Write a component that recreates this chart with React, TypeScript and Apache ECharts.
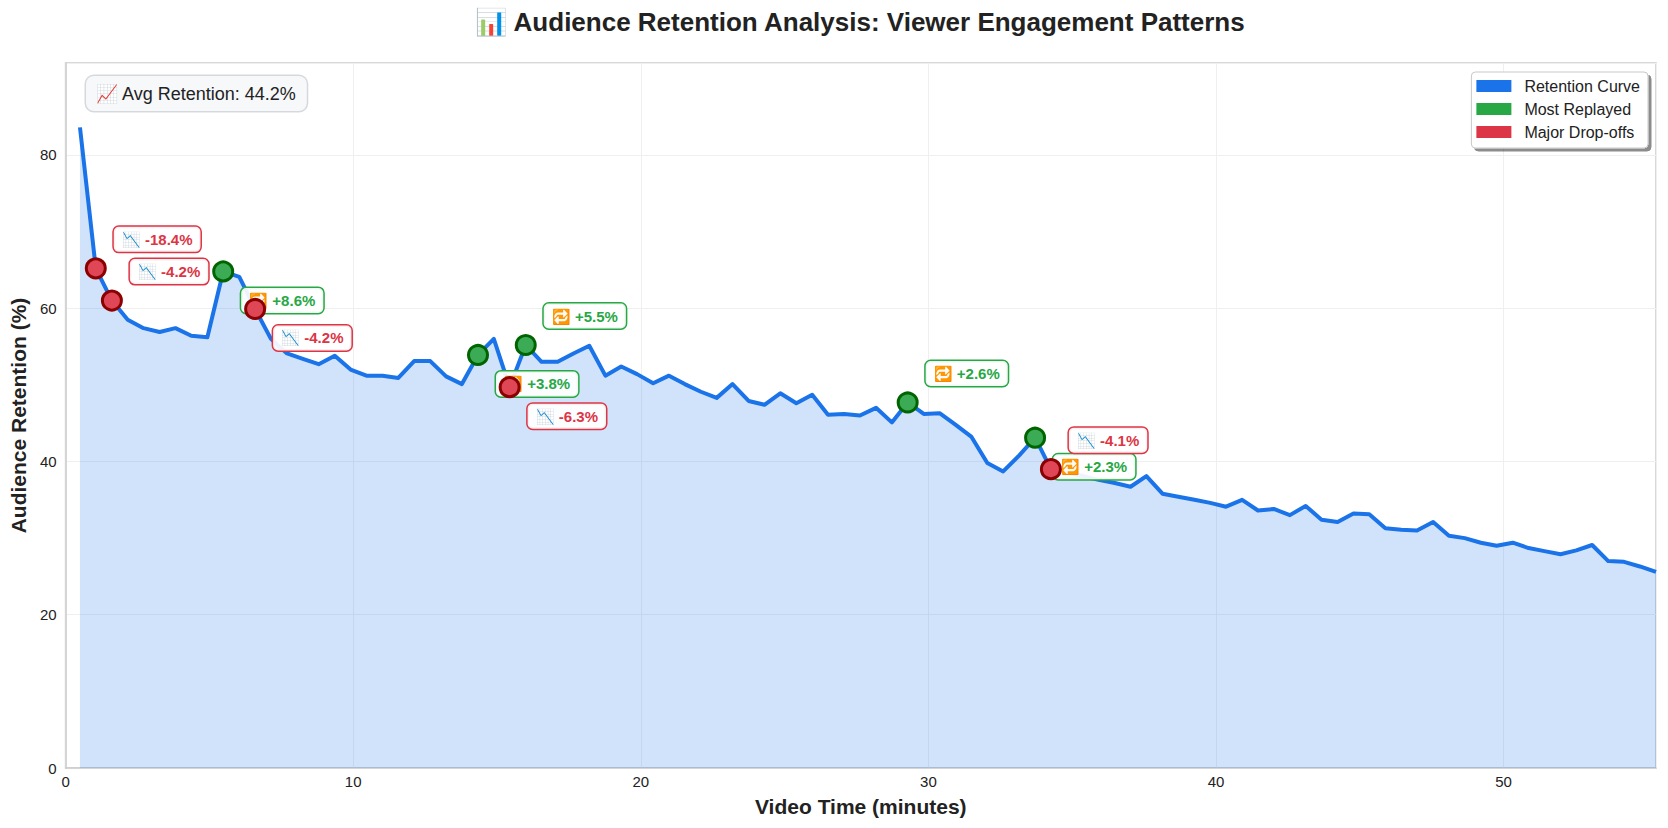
import React, { useEffect, useRef } from "react";
import * as echarts from "echarts";

// ---- data ----
const times = [
  0.5, 1.05, 1.61, 2.16, 2.71, 3.27, 3.82, 4.37, 4.93, 5.48,
  6.04, 6.59, 7.14, 7.7, 8.25, 8.8, 9.36, 9.91, 10.46, 11.02,
  11.57, 12.12, 12.68, 13.23, 13.78, 14.34, 14.89, 15.44, 16.0, 16.55,
  17.11, 17.66, 18.21, 18.77, 19.32, 19.87, 20.43, 20.98, 21.53, 22.09,
  22.64, 23.19, 23.75, 24.3, 24.85, 25.41, 25.96, 26.51, 27.07, 27.62,
  28.18, 28.73, 29.28, 29.84, 30.39, 30.94, 31.5, 32.05, 32.6, 33.16,
  33.71, 34.26, 34.82, 35.37, 35.92, 36.48, 37.03, 37.58, 38.14, 38.69,
  39.25, 39.8, 40.35, 40.91, 41.46, 42.01, 42.57, 43.12, 43.67, 44.23,
  44.78, 45.33, 45.89, 46.44, 46.99, 47.55, 48.1, 48.65, 49.21, 49.76,
  50.32, 50.87, 51.42, 51.98, 52.53, 53.08, 53.64, 54.19, 54.74, 55.3,
];
const retention = [
  83.6, 65.2, 61.0, 58.5, 57.4, 56.9, 57.4, 56.4, 56.2, 64.8,
  64.1, 59.9, 56.0, 54.1, 53.4, 52.7, 53.8, 52.0, 51.2, 51.2,
  50.9, 53.1, 53.1, 51.1, 50.1, 53.9, 56.0, 49.7, 55.2, 53.0,
  53.0, 54.1, 55.1, 51.2, 52.4, 51.4, 50.2, 51.2, 50.1, 49.1,
  48.3, 50.1, 47.9, 47.4, 48.9, 47.6, 48.7, 46.1, 46.2, 46.0,
  47.0, 45.1, 47.7, 46.2, 46.3, 44.8, 43.2, 39.8, 38.7, 40.8,
  43.1, 39.0, 38.6, 38.1, 37.6, 37.2, 36.7, 38.1, 35.8, 35.4,
  35.0, 34.6, 34.1, 35.0, 33.6, 33.8, 33.0, 34.2, 32.4, 32.1,
  33.2, 33.1, 31.3, 31.1, 31.0, 32.1, 30.3, 30.0, 29.4, 29.0,
  29.4, 28.7, 28.3, 27.9, 28.4, 29.1, 27.0, 26.9, 26.3, 25.6,
];
const replayIdx = [9, 25, 28, 52, 60];
const replayGain = [8.6, 3.8, 5.5, 2.6, 2.3];
const dropIdx = [1, 2, 11, 27, 61];
const dropLoss = [-18.4, -4.2, -4.2, -6.3, -4.1];
const avgRetention = 44.2;
const seriesNames = ["Retention Curve", "Most Replayed", "Major Drop-offs"];
const titleText = "📊 Audience Retention Analysis: Viewer Engagement Patterns";
const xName = "Video Time (minutes)";
const yName = "Audience Retention (%)";

// ---- style ----
const FONT = '"Liberation Sans", Arial, Helvetica, sans-serif';
const BLUE = "#1a73e8";
const GREEN = "#28a745";
const RED = "#dc3545";
const replayLabelUp = [false, false, true, true, false];
const dropLabelUp = [true, true, false, false, true];

function labelStyle(color: string, up: boolean, text: string) {
  return {
    show: true,
    formatter: text,
    position: "inside",
    align: "left",
    verticalAlign: "middle",
    offset: [18, up ? -29 : 29],
    color,
    opacity: 1,
    textBorderWidth: 0,
    textShadowBlur: 0,
    fontFamily: FONT,
    fontSize: 15,
    fontWeight: "bold",
    backgroundColor: "rgba(255,255,255,0.92)",
    borderColor: color,
    borderWidth: 1.5,
    borderRadius: 5,
    padding: [5, 8],
  };
}

export default function App() {
  const ref = useRef<HTMLDivElement>(null);
  useEffect(() => {
    document.body.style.margin = "0";
    if (!ref.current) return;
    const chart = echarts.init(ref.current, null, { renderer: "svg" });
    const option = {
      animation: false,
      backgroundColor: "#ffffff",
      grid: {
        left: 64,
        right: 12,
        top: 63,
        bottom: 60,
        show: true,
        borderColor: "#cccccc",
        borderWidth: 1.5,
      },
      xAxis: {
        type: "value",
        min: 0,
        max: 55.3,
        interval: 10,
        axisLine: { show: true, lineStyle: { color: "#cccccc", width: 1.5 } },
        axisTick: { show: false },
        axisLabel: { fontSize: 15, color: "#222", margin: 6, fontFamily: FONT, showMaxLabel: false },
        splitLine: { show: true, lineStyle: { color: "#efefef", width: 1 } },
        name: xName,
        nameLocation: "middle",
        nameGap: 28,
        nameTextStyle: { fontSize: 21, fontWeight: "bold", color: "#222", fontFamily: FONT },
      },
      yAxis: {
        type: "value",
        min: 0,
        max: 92,
        interval: 20,
        axisLine: { show: true, lineStyle: { color: "#cccccc", width: 1.5 } },
        axisTick: { show: false },
        axisLabel: { fontSize: 15, color: "#222", margin: 9, fontFamily: FONT, showMaxLabel: false },
        splitLine: { show: true, lineStyle: { color: "#efefef", width: 1 } },
        name: yName,
        nameLocation: "middle",
        nameGap: 34,
        nameRotate: 90,
        nameTextStyle: { fontSize: 21, fontWeight: "bold", color: "#222", fontFamily: FONT },
      },
      legend: {
        orient: "vertical",
        right: 20,
        top: 72,
        data: [
          { name: seriesNames[0], icon: "rect", itemStyle: { color: BLUE, borderWidth: 0, opacity: 1 } },
          { name: seriesNames[1], icon: "rect", itemStyle: { color: GREEN, borderWidth: 0, opacity: 1 } },
          { name: seriesNames[2], icon: "rect", itemStyle: { color: RED, borderWidth: 0, opacity: 1 } },
        ],
        itemWidth: 35,
        itemHeight: 12,
        itemGap: 7,
        textStyle: { fontSize: 16, color: "#222", fontFamily: FONT, padding: [0, 0, 0, 8] },
        backgroundColor: "#ffffff",
        borderColor: "#c8c8c8",
        borderWidth: 1,
        borderRadius: 4,
        padding: [6, 8, 8, 5],
        shadowColor: "rgba(0,0,0,0.45)",
        shadowOffsetX: 3,
        shadowOffsetY: 3,
        shadowBlur: 0,
        selectedMode: false,
      },
      graphic: [
        {
          type: "text",
          x: 860,
          y: 22,
          style: {
            text: titleText,
            font: `bold 26px ${FONT}`,
            fill: "#222",
            align: "center",
            verticalAlign: "middle",
            textAlign: "center",
            textVerticalAlign: "middle",
          },
        },
        {
          type: "text",
          x: 86,
          y: 76,
          z: 100,
          style: {
            text: `📈 Avg Retention: ${avgRetention.toFixed(1)}%`,
            font: `18px ${FONT}`,
            fill: "#222",
            backgroundColor: "#f6f8fa",
            borderColor: "#d5d9de",
            borderWidth: 1.5,
            borderRadius: 8,
            padding: [7, 10],
            lineHeight: 21,
            align: "left",
            verticalAlign: "top",
          },
        },
      ],
      series: [
        {
          type: "line",
          name: seriesNames[0],
          data: times.map((t, i) => [t, retention[i]]),
          symbol: "none",
          showSymbol: false,
          silent: true,
          z: 2,
          itemStyle: { color: BLUE },
          lineStyle: { color: BLUE, width: 4, join: "round" },
          areaStyle: { color: BLUE, opacity: 0.2 },
        },
        {
          type: "scatter",
          name: seriesNames[1],
          z: 3,
          silent: true,
          symbol: "circle",
          symbolSize: 19,
          itemStyle: { color: "#3bab55", borderColor: "#006400", borderWidth: 3, opacity: 1 },
          data: replayIdx.map((idx, k) => ({
            value: [times[idx], retention[idx]],
            label: labelStyle(GREEN, replayLabelUp[k], `🔁 +${replayGain[k].toFixed(1)}%`),
          })),
        },
        {
          type: "scatter",
          name: seriesNames[2],
          z: 4,
          silent: true,
          symbol: "circle",
          symbolSize: 19,
          itemStyle: { color: "#df4757", borderColor: "#8b0000", borderWidth: 3, opacity: 1 },
          data: dropIdx.map((idx, k) => ({
            value: [times[idx], retention[idx]],
            label: labelStyle(RED, dropLabelUp[k], `📉 ${dropLoss[k].toFixed(1)}%`),
          })),
        },
      ],
    };
    chart.setOption(option as any);
    return () => chart.dispose();
  }, []);
  return <div ref={ref} style={{ width: 1668, height: 828 }} />;
}
